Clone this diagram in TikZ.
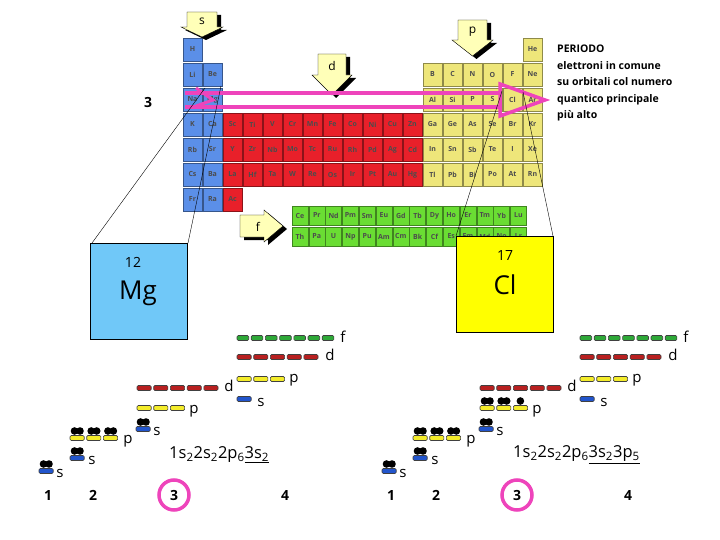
\documentclass[tikz,border=0pt]{standalone}
\usepackage{fontspec}
\setmainfont{Open Sans}
\begin{document}
\begin{tikzpicture}[x=1pt,y=-1pt,
  cell/.style={draw=#1!60!black,fill=#1,line width=0.4pt},
  el/.style={font=\bfseries\fontsize{7}{7}\selectfont,text=black!70,inner sep=0pt},
  lab/.style={font=\fontsize{15}{15}\selectfont,inner sep=0pt},
  num/.style={font=\bfseries\fontsize{14}{14}\selectfont,inner sep=0pt},
  barS/.style={draw=black!75,fill=#1,rounded corners=1.2pt,line width=0.6pt},
  tie/.style={line width=0.4pt,black}]
\definecolor{pblue}{HTML}{5B8FE8}
\definecolor{pred}{HTML}{E8202A}
\definecolor{pyel}{HTML}{EEE67A}
\definecolor{pgrn}{HTML}{6ADD33}
\definecolor{pink}{HTML}{EE44BB}
\definecolor{argold}{HTML}{FFFFB8}
\definecolor{obl}{HTML}{2255CC}
\definecolor{oye}{HTML}{F4EC2A}
\definecolor{ore}{HTML}{B82020}
\definecolor{ogr}{HTML}{2EA838}
\definecolor{mgbox}{HTML}{70C8F8}
\definecolor{clbox}{HTML}{FFFF00}
\useasboundingbox (0,0) rectangle (720,540);
% ---- periodic table
\newcommand\pcell[4]{% col,row,symbol,color
  \draw[cell=#4] ({183+20*#1},{38+25*#2}) rectangle ++(19,23);
  \node[el] at ({192.5+20*#1},{49.5+25*#2}) {#3};}
\pcell{0}{0}{H}{pblue}\pcell{17}{0}{He}{pyel}
\pcell{0}{1}{Li}{pblue}\pcell{1}{1}{Be}{pblue}
\pcell{0}{2}{Na}{pblue}\pcell{1}{2}{Mg}{pblue}
\foreach \s [count=\i from 12] in {B,C,N,O,F,Ne}{\pcell{\i}{1}{\s}{pyel}}
\foreach \s [count=\i from 12] in {Al,Si,P,S,Cl,Ar}{\pcell{\i}{2}{\s}{pyel}}
\foreach \s [count=\i from 0] in {K,Ca,Sc,Ti,V,Cr,Mn,Fe,Co,Ni,Cu,Zn,Ga,Ge,As,Se,Br,Kr}{
  \ifnum\i<2 \pcell{\i}{3}{\s}{pblue}\else\ifnum\i<12 \pcell{\i}{3}{\s}{pred}\else\pcell{\i}{3}{\s}{pyel}\fi\fi}
\foreach \s [count=\i from 0] in {Rb,Sr,Y,Zr,Nb,Mo,Tc,Ru,Rh,Pd,Ag,Cd,In,Sn,Sb,Te,I,Xe}{
  \ifnum\i<2 \pcell{\i}{4}{\s}{pblue}\else\ifnum\i<12 \pcell{\i}{4}{\s}{pred}\else\pcell{\i}{4}{\s}{pyel}\fi\fi}
\foreach \s [count=\i from 0] in {Cs,Ba,La,Hf,Ta,W,Re,Os,Ir,Pt,Au,Hg,Tl,Pb,Bi,Po,At,Rn}{
  \ifnum\i<2 \pcell{\i}{5}{\s}{pblue}\else\ifnum\i<12 \pcell{\i}{5}{\s}{pred}\else\pcell{\i}{5}{\s}{pyel}\fi\fi}
\pcell{0}{6}{Fr}{pblue}\pcell{1}{6}{Ra}{pblue}\pcell{2}{6}{Ac}{pred}
\foreach \s [count=\i from 0] in {Ce,Pr,Nd,Pm,Sm,Eu,Gd,Tb,Dy,Ho,Er,Tm,Yb,Lu}{
  \draw[cell=pgrn] ({292+16.8*\i},206) rectangle ++(16,19);
  \node[el] at ({300+16.8*\i},215.5) {\s};}
\foreach \s [count=\i from 0] in {Th,Pa,U,Np,Pu,Am,Cm,Bk,Cf,Es,Fm,Md,No,Lr}{
  \draw[cell=pgrn] ({292+16.8*\i},227) rectangle ++(16,19);
  \node[el] at ({300+16.8*\i},236.5) {\s};}
% ---- block arrows
\newcommand\downarr[6]{% x1,x2,ytop,ymid,tip y,label
  \fill[black] ({#1+4},{#3+3}) -- ({#2+4},{#3+3}) -- ({#2+4},{#4+3}) -- ({#2+10},{#4+3}) -- ({(#1+#2)/2+4},{#5+3}) -- ({#1-2},{#4+3}) -- ({#1+4},{#4+3}) -- cycle;
  \draw[fill=argold,line width=0.4pt] (#1,#3) -- (#2,#3) -- (#2,#4) -- ({#2+6},#4) -- ({(#1+#2)/2},#5) -- ({#1-6},#4) -- (#1,#4) -- cycle;
  \node[font=\fontsize{12}{12}\selectfont] at ({(#1+#2)/2},{(#3+#4)/2+2}) {#6};}
\downarr{187}{217}{12}{27}{37}{s}
\downarr{318}{346}{54}{75}{95}{d}
\downarr{458}{487}{20}{40}{56}{p}
\fill[black] (244,218) -- (268,218) -- (268,213) -- (287,229) -- (268,245) -- (268,240) -- (244,240) -- cycle;
\draw[fill=argold,line width=0.4pt] (240,215) -- (264,215) -- (264,210) -- (283,226) -- (264,242) -- (264,237) -- (240,237) -- cycle;
\node[font=\fontsize{12}{12}\selectfont] at (258,227) {f};
% ---- pink period arrow
\draw[pink,line width=3.5pt] (185,93) -- (502,93);
\draw[pink,line width=3.5pt] (185,107) -- (502,107);
\draw[pink,line width=3.5pt,line join=miter] (500,84) -- (545,100) -- (500,116) -- cycle;
\draw[pink,line width=3pt] (196,88) -- (213,100) -- (196,106);
% ---- element boxes
\draw[tie] (92,243) -- (205,88);
\draw[tie] (188,243) -- (221,86);
\draw[tie] (456,236) -- (502,91);
\draw[tie] (553,236) -- (523,92);
\draw[fill=mgbox,line width=0.5pt] (90,243) rectangle (187,339);
\node[font=\fontsize{14}{14}\selectfont] (z12) at (133,262) {12};
\node[font=\fontsize{26}{26}\selectfont] (mg) at (138,293) {Mg};
\draw[fill=clbox,line width=0.5pt] (456,236) rectangle (553,332);
\node[font=\fontsize{14}{14}\selectfont] (z17) at (505,256) {17};
\node[font=\fontsize{26}{26}\selectfont] (cl) at (505,285) {Cl};
\node[num] (per3) at (148,103) {3};
\node[align=left,anchor=north west,inner sep=0pt,font=\bfseries\fontsize{10.5}{16.5}\selectfont] (txt) at (557,45)
 {PERIODO\\elettroni in comune\\su orbitali col numero\\quantico principale\\più alto};
% ---- orbital diagrams
\newcommand\bars[5]{% x,y,n,color,pitch
  \foreach \k in {1,...,#3}{\draw[barS=#4] ({#1+#5*(\k-1)},{#2-2.5}) rectangle ++({#5-2.5},5);}}
\newcommand\pair[2]{\fill (#1+4.5,#2-7) circle (3.8); \fill (#1+10,#2-7) circle (3.8);}
\newcommand\one[2]{\fill (#1+7,#2-7) circle (3.8);}
\newcommand\diagram[2]{% offset, 3p electrons variant
  \begin{scope}[xshift=#1]
  \bars{39}{471}{1}{obl}{16.7}\pair{39}{471}\node[lab] at (60,473) {s};
  \bars{70}{458}{1}{obl}{16.7}\pair{70}{458}\node[lab] at (92,460) {s};
  \bars{70}{438}{3}{oye}{16.7}\pair{70}{438}\pair{86.7}{438}\pair{103.4}{438}\node[lab] at (128,441) {p};
  \bars{136}{429}{1}{obl}{16.7}\pair{136}{429}\node[lab] at (157,431) {s};
  \bars{137}{408}{3}{oye}{16.7}#2\node[lab] at (194,411) {p};
  \bars{137}{388}{5}{ore}{16.7}\node[lab] at (229,386) {d};
  \bars{237}{399}{1}{obl}{16.7}\node[lab] at (261,402) {s};
  \bars{237}{379}{3}{oye}{16.7}\node[lab] at (294,380) {p};
  \bars{237}{357}{5}{ore}{16.7}\node[lab] at (330,355) {d};
  \bars{237}{338}{7}{ogr}{14.2}\node[lab] at (343,337) {f};
  \node[num] at (48,495) {1};
  \node[num] at (93,495) {2};
  \node[num] at (174,495) {3};
  \node[num] at (285,495) {4};
  \draw[pink,line width=3.5pt] (174,495) circle (15);
  \end{scope}}
\diagram{0}{}
\diagram{343}{\pair{137}{408}\pair{153.7}{408}\one{170.4}{408}}
\node[anchor=west,inner sep=0pt,font=\fontsize{16.5}{16.5}\selectfont] (cfgA) at (169,455)
 {1s\textsubscript{2}2s\textsubscript{2}2p\textsubscript{6}\underline{3s\textsubscript{2}}};
\node[anchor=west,inner sep=0pt,font=\fontsize{16.5}{16.5}\selectfont] (cfgB) at (513,455)
 {1s\textsubscript{2}2s\textsubscript{2}2p\textsubscript{6}\underline{3s\textsubscript{2}3p\textsubscript{5}}};
\end{tikzpicture}
\end{document}
